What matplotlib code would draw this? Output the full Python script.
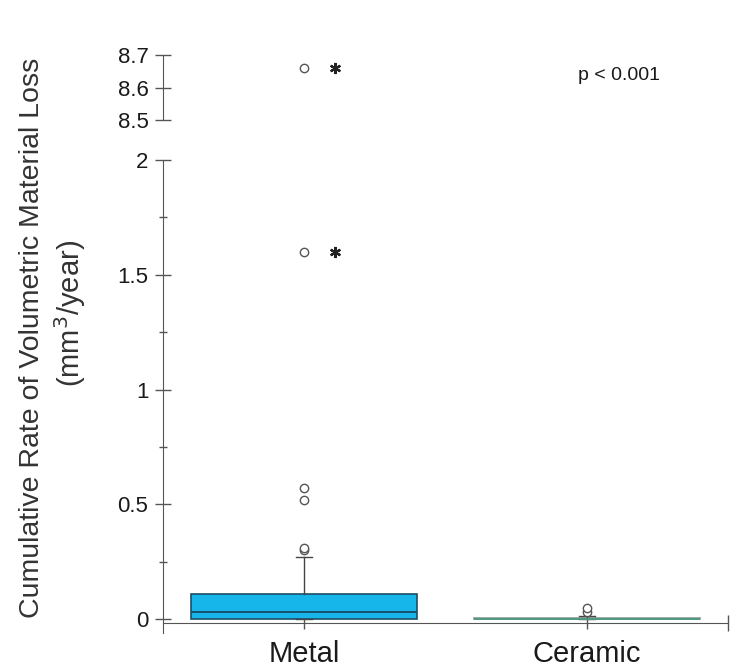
import matplotlib
matplotlib.use("Agg")
import matplotlib.pyplot as plt
from matplotlib.ticker import MultipleLocator, FixedLocator

plt.rcParams["font.family"] = ["Liberation Sans", "DejaVu Sans"]

# Categories and box summaries (mm^3/year)
categories = ["Metal", "Ceramic"]
q1_vals = [0.0, 0.0]
median_vals = [0.03, 0.0]
q3_vals = [0.109, 0.004]
whisker_low = [0.0, 0.0]
whisker_high = [0.27, 0.012]

# Outlying cases (circles) and extreme cases (asterisks)
metal_outliers = [0.30, 0.31, 0.52, 0.57, 1.60, 8.66]
metal_extremes = [1.60, 8.66]
ceramic_outliers = [0.03, 0.048]

y_ticks_low = [0, 0.5, 1, 1.5, 2]
y_tick_labels_low = ["0", "0.5", "1", "1.5", "2"]
y_ticks_high = [8.5, 8.6, 8.7]
y_tick_labels_high = ["8.5", "8.6", "8.7"]

W, H = 739, 672
fig = plt.figure(figsize=(W / 100, H / 100), dpi=100)
left = 163 / W
width = (728 - 163) / W
ax = fig.add_axes([left, 1 - 633 / H, width, (633 - 160) / H])
ax_top = fig.add_axes([left, 1 - 120 / H, width, 65 / H])

axis_col = "#555555"
text_col = "#1a1a1a"

positions = [1, 2]
stats = []
for i, name in enumerate(categories):
    stats.append(dict(label=name, q1=q1_vals[i], med=median_vals[i], q3=q3_vals[i],
                      whislo=whisker_low[i], whishi=whisker_high[i], fliers=[]))

box_face = ["#17b6ea", "#ffffff"]
box_edge = ["#1d4e66", "#8a9a94"]
med_col = ["#17506e", "#4f9a7e"]

for i, st in enumerate(stats):
    ax.bxp([st], positions=[positions[i]], widths=0.8, patch_artist=True,
           showfliers=False, capwidths=[0.057],
           boxprops=dict(facecolor=box_face[i], edgecolor=box_edge[i], linewidth=1.2),
           medianprops=dict(color=med_col[i], linewidth=1.4),
           whiskerprops=dict(color="#444444", linewidth=1.0),
           capprops=dict(color="#444444", linewidth=1.0),
           manage_ticks=False)

circle_kw = dict(marker="o", linestyle="none", markersize=6, markerfacecolor="white",
                 markeredgecolor="#555555", markeredgewidth=1.0, zorder=5)
star_kw = dict(marker=(6, 2, 0), linestyle="none", markersize=8,
               markeredgewidth=1.6, color="#222222", zorder=5)

low_out = [v for v in metal_outliers if v <= 2]
high_out = [v for v in metal_outliers if v > 2]
low_ext = [v for v in metal_extremes if v <= 2]
high_ext = [v for v in metal_extremes if v > 2]

ax.plot([positions[0]] * len(low_out), low_out, **circle_kw)
ax.plot([positions[0] + 0.11] * len(low_ext), low_ext, **star_kw)
ax.plot([positions[1]] * len(ceramic_outliers), ceramic_outliers, **circle_kw)
ax_top.plot([positions[0]] * len(high_out), high_out, **circle_kw)
ax_top.plot([positions[0] + 0.11] * len(high_ext), high_ext, **star_kw)

# Lower panel
ax.set_xlim(0.5, 2.5)
ax.set_ylim(-0.06, 2.0)
for s in ["top", "right"]:
    ax.spines[s].set_visible(False)
ax.spines["left"].set_color(axis_col)
ax.spines["bottom"].set_color(axis_col)
ax.spines["bottom"].set_position(("data", -0.016))
ax.yaxis.set_major_locator(FixedLocator(y_ticks_low))
ax.set_yticklabels(y_tick_labels_low)
ax.yaxis.set_minor_locator(MultipleLocator(0.25))
ax.tick_params(axis="y", which="major", direction="inout", length=11, width=1,
               color=axis_col, labelsize=16, labelcolor=text_col, pad=5)
ax.tick_params(axis="y", which="minor", direction="inout", length=6, width=1, color=axis_col)
ax.set_xticks(positions)
ax.set_xticklabels(categories)
ax.xaxis.set_minor_locator(FixedLocator([2.5]))
ax.tick_params(axis="x", which="major", direction="inout", length=9, width=1,
               color=axis_col, labelsize=21, labelcolor=text_col, pad=8)
ax.tick_params(axis="x", which="minor", direction="inout", length=12, width=1, color=axis_col)
ax.patch.set_alpha(0)

# Upper panel
ax_top.set_xlim(0.5, 2.5)
ax_top.set_ylim(8.5, 8.7)
for s in ["top", "right", "bottom"]:
    ax_top.spines[s].set_visible(False)
ax_top.spines["left"].set_color(axis_col)
ax_top.set_xticks([])
ax_top.yaxis.set_major_locator(FixedLocator(y_ticks_high))
ax_top.set_yticklabels(y_tick_labels_high)
ax_top.tick_params(axis="y", which="major", direction="inout", length=11, width=1,
                   color=axis_col, labelsize=16, labelcolor=text_col, pad=5)
ax_top.patch.set_alpha(0)

ax_top.text(0.735, 0.68, "p < 0.001", transform=ax_top.transAxes, fontsize=14,
            color=text_col, ha="left", va="center")

fig.text(32 / W, 1 - 338 / H, "Cumulative Rate of Volumetric Material Loss",
         rotation=90, ha="center", va="center", fontsize=20.5, color="#333333")
fig.text(70 / W, 1 - 313 / H, "(mm$^3$/year)",
         rotation=90, ha="center", va="center", fontsize=21, color="#333333")

fig.savefig("out.png", dpi=100, facecolor="white")
